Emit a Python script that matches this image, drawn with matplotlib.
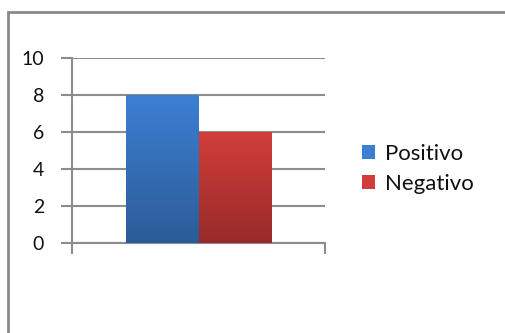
import matplotlib.pyplot as plt
import numpy as np
from matplotlib.colors import LinearSegmentedColormap
from matplotlib.patches import Rectangle, Patch

plt.rcParams["font.family"] = ["Lato", "DejaVu Sans"]

series = ["Positivo", "Negativo"]
values = [8, 6]
y_ticks = [0, 2, 4, 6, 8, 10]

# top / bottom colours of each bar's vertical gradient
top_colors = ["#3c7fd2", "#d13e3a"]
bottom_colors = ["#2c5c98", "#982b29"]

W, H = 506, 333
fig = plt.figure(figsize=(W / 100, H / 100), dpi=100)

# chart frame, running off the right and bottom edges
fig.patches.append(Rectangle((8 / W, -0.1), 1.2, 1 - 12 / H + 0.1,
                             transform=fig.transFigure, fill=False,
                             edgecolor="#8a8a8a", linewidth=2, zorder=0))

ax = fig.add_axes([72 / W, 1 - 243 / H, 253 / W, 185 / H])

width = 0.285
center = 0.5
offsets = [-width / 2, width / 2]
bars = []
for val, off, col in zip(values, offsets, top_colors):
    b = ax.bar(center + off, val, width=width, color=col, zorder=3, linewidth=0)
    bars.append(b[0])

# vertical gradient fill, clipped to each bar
for patch, c_top, c_bot in zip(bars, top_colors, bottom_colors):
    cmap = LinearSegmentedColormap.from_list("g", [c_bot, c_top])
    x0, y0 = patch.get_x(), patch.get_y()
    x1, y1 = x0 + patch.get_width(), y0 + patch.get_height()
    grad = np.linspace(0, 1, 256).reshape(-1, 1)
    im = ax.imshow(grad, cmap=cmap, origin="lower", aspect="auto",
                   extent=[x0, x1, y0, y1], zorder=4)
    im.set_clip_path(patch)

ax.set_xlim(0, 1)
ax.set_ylim(0, 10)
ax.set_yticks(y_ticks)
ax.set_xticks([0, 1])
ax.set_xticklabels([])
ax.yaxis.grid(True, color="#8c8c8c", linewidth=1.5, zorder=1)
ax.set_axisbelow(True)

for side in ["top", "right"]:
    ax.spines[side].set_visible(False)
for side in ["left", "bottom"]:
    ax.spines[side].set_color("#8c8c8c")
    ax.spines[side].set_linewidth(1.5)

ax.tick_params(axis="y", length=8, width=1.5, color="#8c8c8c",
               labelsize=14, pad=12, labelcolor="#111111")
ax.tick_params(axis="x", length=8, width=1.5, color="#8c8c8c")

handles = [Patch(facecolor=c, edgecolor="none") for c in top_colors]
fig.legend(handles, series, loc="center left", bbox_to_anchor=(351 / W, 1 - 169 / H),
           frameon=False, fontsize=16, handlelength=0.6, handleheight=0.6,
           handletextpad=0.45, labelspacing=0.45, borderpad=0,
           labelcolor="#111111")

fig.savefig("out.png", dpi=100)
